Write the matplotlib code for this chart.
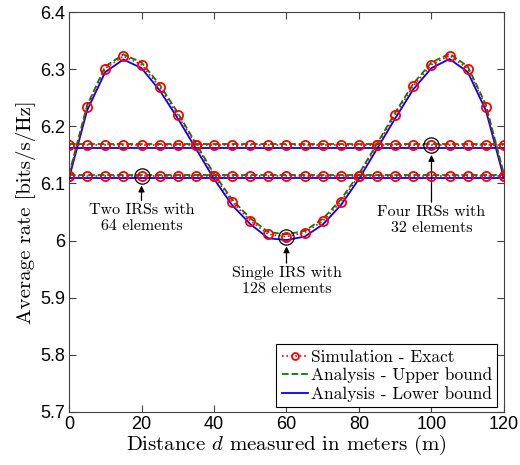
import matplotlib
matplotlib.use("Agg")
import matplotlib.pyplot as plt
import numpy as np

plt.rcParams['mathtext.fontset'] = 'cm'
plt.rcParams['axes.unicode_minus'] = False

# distance grid (m)
d = np.arange(0, 121, 5)

# single IRS with 128 elements
single_sim = [6.1135, 6.233, 6.301, 6.323, 6.308, 6.269, 6.220, 6.167, 6.1135, 6.068, 6.035, 6.011, 6.007,
              6.014, 6.034, 6.068, 6.1135, 6.167, 6.220, 6.271, 6.308, 6.324, 6.301, 6.234, 6.1135]
single_up = [6.116, 6.237, 6.305, 6.326, 6.312, 6.273, 6.224, 6.170, 6.117, 6.072, 6.039, 6.015, 6.011,
             6.017, 6.038, 6.072, 6.117, 6.170, 6.224, 6.275, 6.312, 6.327, 6.305, 6.238, 6.116]
single_lo = [6.109, 6.228, 6.295, 6.317, 6.302, 6.263, 6.214, 6.161, 6.108, 6.062, 6.029, 6.004, 6.001,
             6.007, 6.028, 6.062, 6.108, 6.161, 6.214, 6.265, 6.302, 6.318, 6.295, 6.228, 6.109]

# two IRSs with 64 elements
two_sim = [6.1135, 6.1135, 6.1135, 6.1135, 6.1135, 6.1135, 6.1135, 6.1135, 6.1135, 6.1135, 6.1135, 6.1135, 6.1135,
           6.1135, 6.1135, 6.1135, 6.1135, 6.1135, 6.1135, 6.1135, 6.1135, 6.1135, 6.1135, 6.1135, 6.1135]
two_up = [6.115, 6.115, 6.115, 6.115, 6.115, 6.115, 6.115, 6.115, 6.115, 6.115, 6.115, 6.115, 6.115,
          6.115, 6.115, 6.115, 6.115, 6.115, 6.115, 6.115, 6.115, 6.115, 6.115, 6.115, 6.115]
two_lo = [6.109, 6.109, 6.109, 6.109, 6.109, 6.109, 6.109, 6.109, 6.109, 6.109, 6.109, 6.109, 6.109,
          6.109, 6.109, 6.109, 6.109, 6.109, 6.109, 6.109, 6.109, 6.109, 6.109, 6.109, 6.109]

# four IRSs with 32 elements
four_sim = [6.167, 6.167, 6.167, 6.167, 6.167, 6.167, 6.167, 6.167, 6.167, 6.167, 6.167, 6.167, 6.167,
            6.167, 6.167, 6.167, 6.167, 6.167, 6.167, 6.167, 6.167, 6.167, 6.167, 6.167, 6.167]
four_up = [6.169, 6.169, 6.169, 6.169, 6.169, 6.169, 6.169, 6.169, 6.169, 6.169, 6.169, 6.169, 6.169,
           6.169, 6.169, 6.169, 6.169, 6.169, 6.169, 6.169, 6.169, 6.169, 6.169, 6.169, 6.169]
four_lo = [6.162, 6.162, 6.162, 6.162, 6.162, 6.162, 6.162, 6.162, 6.162, 6.162, 6.162, 6.162, 6.162,
           6.162, 6.162, 6.162, 6.162, 6.162, 6.162, 6.162, 6.162, 6.162, 6.162, 6.162, 6.162]

yticks = [5.7, 5.8, 5.9, 6.0, 6.1, 6.2, 6.3, 6.4]
ytick_labels = ["5.7", "5.8", "5.9", "6", "6.1", "6.2", "6.3", "6.4"]

serif = 'cmr10'
green = '#008000'

fig = plt.figure(figsize=(5.2, 4.65), dpi=100)
ax = fig.add_axes([0.1327, 0.114, 0.8365, 0.860])

for i, (sim, up, lo) in enumerate([(single_sim, single_up, single_lo),
                                   (two_sim, two_up, two_lo),
                                   (four_sim, four_up, four_lo)]):
    ax.plot(d, lo, '-', color='blue', lw=1.3, zorder=3,
            label="Analysis - Lower bound" if i == 0 else None)
    ax.plot(d, up, '--', color=green, lw=1.3, zorder=4,
            label="Analysis - Upper bound" if i == 0 else None)
    ax.plot(d, sim, ':', color='red', lw=1.2, marker='o', ms=6.6, mfc='none', mew=1.3, zorder=5,
            label="Simulation - Exact" if i == 0 else None)

# highlight circles + annotations
ann_kw = dict(ha='center', va='center', fontsize=11.5, family=serif, linespacing=1.25,
              arrowprops=dict(arrowstyle='-|>', color='black', lw=0.9, mutation_scale=9, shrinkA=0, shrinkB=7))
ax.plot([20], [two_sim[4]], 'o', ms=11, mfc='none', mec='black', mew=0.9, zorder=6)
ax.annotate("Two IRSs with\n64 elements", xy=(20, two_sim[4]), xytext=(20, 6.039), **ann_kw)
ax.plot([60], [single_sim[12]], 'o', ms=11, mfc='none', mec='black', mew=0.9, zorder=6)
ax.annotate("Single IRS with\n128 elements", xy=(60, single_sim[12]), xytext=(60, 5.929), **ann_kw)
ax.plot([100], [four_sim[20]], 'o', ms=11, mfc='none', mec='black', mew=0.9, zorder=6)
ax.annotate("Four IRSs with\n32 elements", xy=(100, four_sim[20]), xytext=(100, 6.036), **ann_kw)

ax.set_xlim(0, 120)
ax.set_ylim(5.7, 6.4)
ax.set_xticks(np.arange(0, 121, 20))
ax.set_yticks(yticks)
ax.set_yticklabels(ytick_labels)
ax.tick_params(direction='in', top=True, right=True, labelsize=13, length=5, color='#404040', pad=3)
for lab in ax.get_xticklabels() + ax.get_yticklabels():
    lab.set_family('Liberation Sans')
for sp in ax.spines.values():
    sp.set_color('#404040')
    sp.set_linewidth(0.8)

ax.set_xlabel("Distance $d$ measured in meters (m)", family=serif, fontsize=15, labelpad=0)
ax.set_ylabel("Average rate [bits/s/Hz]", family=serif, fontsize=15, labelpad=3)

handles, labels = ax.get_legend_handles_labels()
order = [2, 1, 0]
leg = ax.legend([handles[k] for k in order], [labels[k] for k in order],
                loc='lower right', bbox_to_anchor=(0.985, 0.013), borderaxespad=0,
                prop={'family': serif, 'size': 12.5}, handlelength=1.5, handletextpad=0.2,
                labelspacing=0.15, borderpad=0.3, fancybox=False, framealpha=1, edgecolor='black')
leg.get_frame().set_linewidth(0.8)
for h in leg.legend_handles:
    h.set_markersize(5)

fig.savefig("out.png", dpi=100)
